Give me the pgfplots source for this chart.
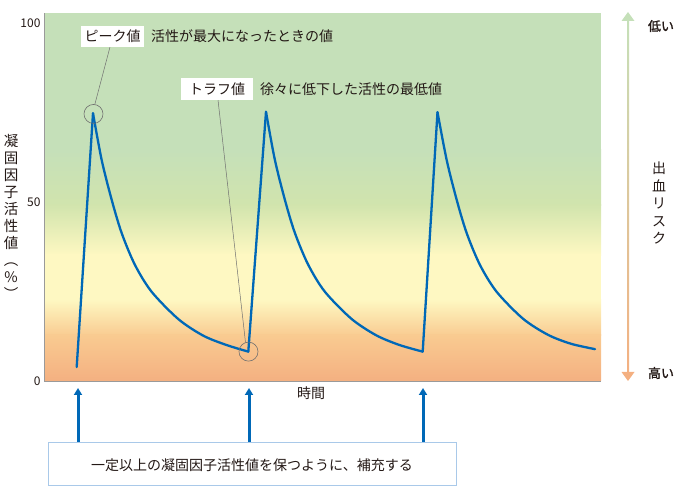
\documentclass[border=0pt]{standalone}
\usepackage{pgfplots}
\pgfplotsset{compat=1.18}
\usepackage{fontspec}
\setmainfont{Noto Sans CJK JP}
\newfontfamily\jpbold{Noto Sans CJK JP}[FakeBold=1.5]
\usetikzlibrary{arrows.meta}

\definecolor{bgGreen}{HTML}{C5E0B9}
\definecolor{bgGreenB}{HTML}{D1E4AD}
\definecolor{bgYellow}{HTML}{FEF8C2}
\definecolor{bgPeach}{HTML}{F9CB91}
\definecolor{bgOrange}{HTML}{F4B081}
\definecolor{curveBlue}{HTML}{0068B7}
\definecolor{axisGrey}{HTML}{9A9A9A}
\definecolor{leadGrey}{HTML}{707070}
\definecolor{boxBlue}{HTML}{A9C9E9}
\definecolor{txt}{HTML}{231815}

\begin{document}
\begin{tikzpicture}[font=\fontsize{14}{17}\selectfont, text=txt]
  \path (0pt,0pt) rectangle (680pt,500pt);

  \begin{axis}[
      at={(44pt,119pt)}, anchor=south west,
      scale only axis, width=557pt, height=368pt,
      xmin=44, xmax=601, ymin=0, ymax=102.8,
      axis x line=bottom, axis y line=left,
      axis line style={draw=axisGrey, line width=0.8pt, -},
      xtick=\empty, ytick={0,50,100},
      major tick length=0pt,
      yticklabel style={font=\fontsize{12}{12}\selectfont, text=txt},
      /pgf/number format/assume math mode=true,
      clip=false, axis on top,
      curve/.style={draw=curveBlue, line width=2.3pt, line join=round, line cap=round, mark=none},
    ]
    % background: bleeding risk gradient
    \fill[bgGreen] (axis cs:44,64) rectangle (axis cs:601,102.8);
    \shade[top color=bgGreen, bottom color=bgGreenB] (axis cs:44,49) rectangle (axis cs:601,64.6);
    \shade[top color=bgGreenB, bottom color=bgYellow] (axis cs:44,35) rectangle (axis cs:601,49.4);
    \fill[bgYellow] (axis cs:44,22.4) rectangle (axis cs:601,35.4);
    \shade[top color=bgYellow, bottom color=bgPeach] (axis cs:44,12.6) rectangle (axis cs:601,22.8);
    \shade[top color=bgPeach, bottom color=bgOrange] (axis cs:44,0) rectangle (axis cs:601,13);

    % infusions (rises) and decays
    \addplot[curve] coordinates {(76.7,3.9) (93,74.8)};
    \addplot[curve, smooth] coordinates {
      (93,74.8) (101.7,61.7) (111.7,50.6) (121.7,41.3) (135,32.4)
      (151.7,24.9) (178.3,17.3) (203,12.7) (226,10.1) (248.3,8.2)};
    \addplot[curve] coordinates {(248.3,8.2) (266,75.2)};
    \addplot[curve, smooth] coordinates {
      (266,75.2) (274.7,62.0) (284.7,50.8) (294.7,41.5) (308,32.6)
      (324.7,25.0) (351.3,17.4) (376,12.8) (399,10.1) (422.7,8.2)};
    \addplot[curve] coordinates {(422.7,8.2) (437.5,75.1)};
    \addplot[curve, smooth] coordinates {
      (437.5,75.1) (446.7,61.7) (456.7,50.6) (466.7,41.3) (480,32.4)
      (496.7,24.9) (523,17.4) (548,12.9) (571,10.4) (595,8.9)};

    % peak / trough markers
    \draw[leadGrey, line width=0.6pt] (axis cs:93.5,74.6) circle[radius=9.5pt];
    \draw[leadGrey, line width=0.6pt] (axis cs:248.5,8.2) circle[radius=9.5pt];
  \end{axis}

  % leader lines and callouts
  \draw[leadGrey, line width=0.5pt] (110pt,453pt) -- (94.8pt,395.5pt);
  \draw[leadGrey, line width=0.5pt] (218pt,400pt) -- (245.5pt,157.5pt);
  \node[fill=white, minimum width=63pt, minimum height=21pt, inner sep=0pt] at (112.5pt,463.8pt) {ピーク値};
  \node[anchor=west, inner sep=0pt] at (151pt,464pt) {活性が最大になったときの値};
  \node[fill=white, minimum width=72pt, minimum height=22pt, inner sep=0pt] at (217pt,411pt) {トラフ値};
  \node[anchor=west, inner sep=0pt] at (260pt,411pt) {徐々に低下した活性の最低値};

  % axis titles
  \node[align=center, inner sep=0pt, font=\fontsize{14.5}{17}\selectfont] at (11pt,283.5pt)
    {凝\\固\\因\\子\\活\\性\\値\\︵\\\%\\︶};
  \node[inner sep=0pt] at (311pt,107pt) {時間};

  % bleeding risk scale
  \shade[top color=bgGreen, middle color=bgYellow, bottom color=bgOrange] (627pt,125pt) rectangle (629pt,482pt);
  \fill[bgGreen] (621.5pt,479pt) -- (628pt,488pt) -- (634.5pt,479pt) -- cycle;
  \fill[bgOrange] (621.5pt,128pt) -- (628pt,119pt) -- (634.5pt,128pt) -- cycle;
  \node[inner sep=0pt, font=\jpbold\fontsize{13}{13}\selectfont] at (661pt,474pt) {低い};
  \node[inner sep=0pt, font=\jpbold\fontsize{13}{13}\selectfont] at (661pt,127pt) {高い};
  \node[align=center, inner sep=0pt, font=\fontsize{14}{17.5}\selectfont] at (659pt,297pt)
    {出\\血\\リ\\ス\\ク};

  % dosing arrows and note
  \foreach \xx in {78,249,423}
    \draw[curveBlue, line width=3pt, -{Triangle[width=8pt,length=7pt]}] (\xx pt,58pt) -- (\xx pt,112pt);
  \draw[boxBlue, line width=0.8pt, fill=white] (48pt,15pt) rectangle (456pt,58pt);
  \node[inner sep=0pt] at (252pt,35pt) {一定以上の凝固因子活性値を保つように、補充する};
\end{tikzpicture}
\end{document}
